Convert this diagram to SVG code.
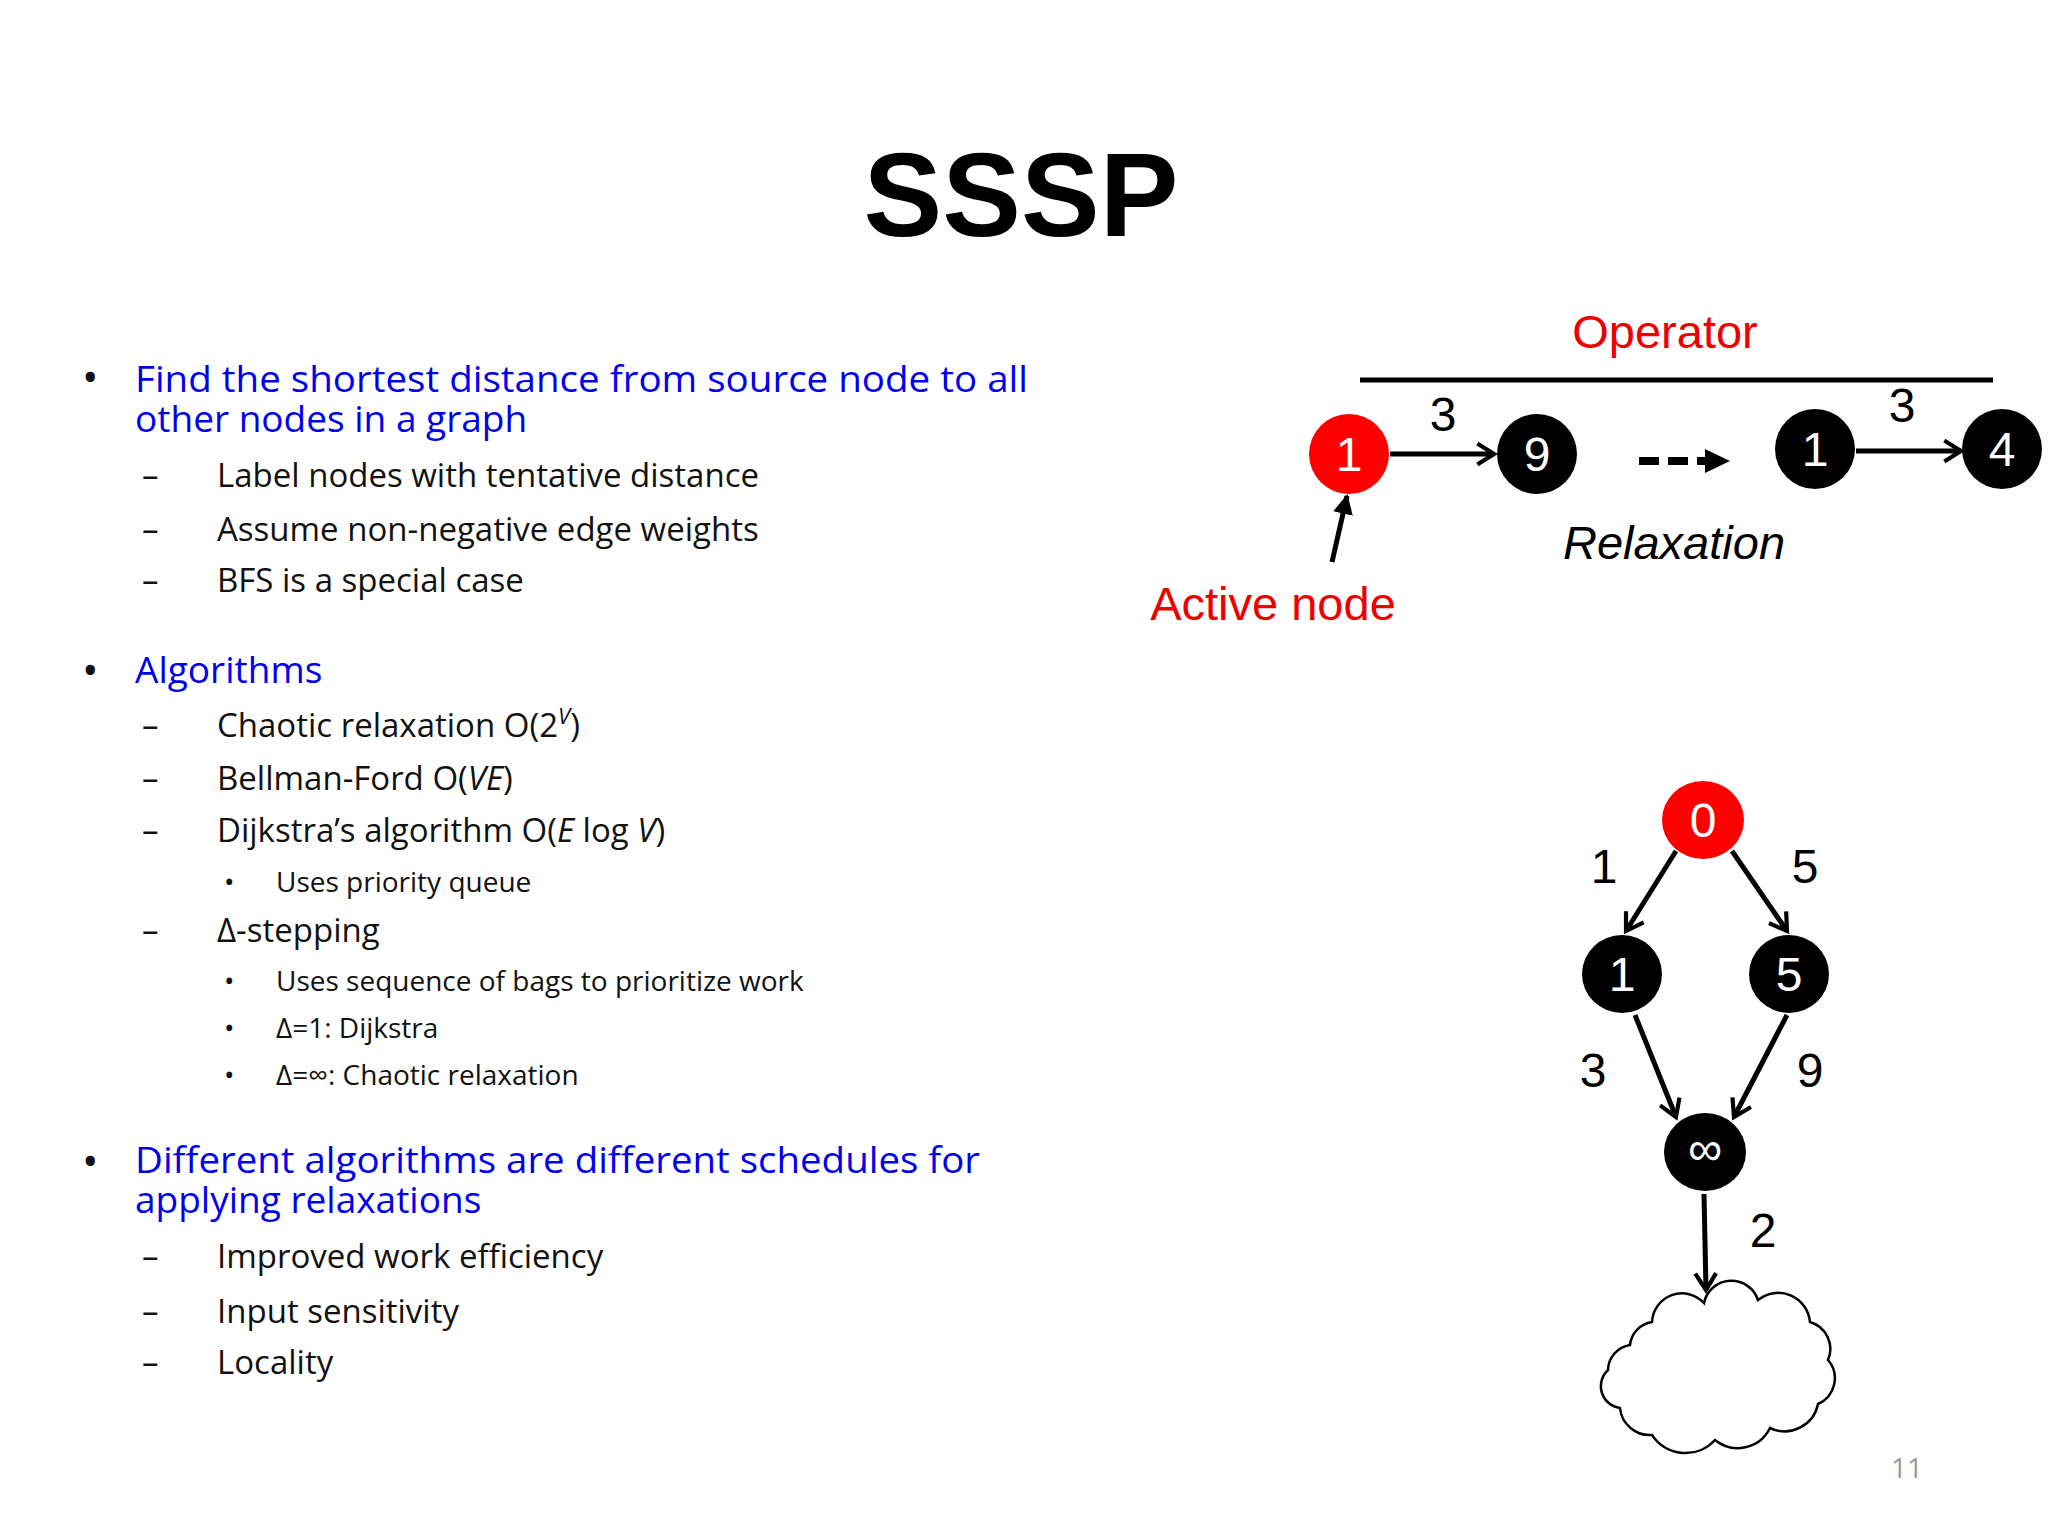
<svg xmlns="http://www.w3.org/2000/svg" width="2048" height="1536" viewBox="0 0 2048 1536">
<style>
.t{font-family:"Open Sans","Liberation Sans",sans-serif;}
.b{fill:#0000ee;font-size:37px;}
.s{fill:#111;font-size:33px;}
.ss{fill:#111;font-size:28px;}
.g{font-family:"Liberation Sans",Arial,sans-serif;font-size:48px;}
.nt{font-family:"Liberation Sans",Arial,sans-serif;font-size:48px;fill:#fff;text-anchor:middle;}
.e{stroke:#000;stroke-width:5;fill:none;}
</style>
<defs>
<marker id="open" viewBox="0 0 12 12" refX="10" refY="6" markerWidth="5" markerHeight="5" orient="auto" markerUnits="strokeWidth"><path d="M2,1 L10,6 L2,11" fill="none" stroke="#000" stroke-width="2"/></marker>
<marker id="fill" viewBox="0 0 10 10" refX="9" refY="5" markerWidth="4" markerHeight="4" orient="auto" markerUnits="strokeWidth"><path d="M0,0 L10,5 L0,10 z" fill="#000"/></marker>
</defs>
<rect width="2048" height="1536" fill="#fff"/>
<text x="1021" y="236" text-anchor="middle" font-family="Liberation Sans,Arial,sans-serif" font-weight="bold" font-size="118">SSSP</text>
<g id="text" class="t">
<g fill="#111" font-size="44"><text x="82" y="393">•</text><text x="82" y="686">•</text><text x="82" y="1177">•</text></g>
<text class="b" x="135" y="392" textLength="893" lengthAdjust="spacingAndGlyphs">Find the shortest distance from source node to all</text>
<text class="b" x="135" y="432">other nodes in a graph</text>
<text class="b" x="135" y="683">Algorithms</text>
<text class="b" x="135" y="1173" textLength="845" lengthAdjust="spacingAndGlyphs">Different algorithms are different schedules for</text>
<text class="b" x="135" y="1213">applying relaxations</text>
<g class="s">
<text x="142" y="487">–</text><text x="217" y="487">Label nodes with tentative distance</text>
<text x="142" y="541">–</text><text x="217" y="541">Assume non-negative edge weights</text>
<text x="142" y="592">–</text><text x="217" y="592">BFS is a special case</text>
<text x="142" y="737">–</text><text x="217" y="737">Chaotic relaxation O(2<tspan font-size="22" dy="-13" font-style="italic">V</tspan><tspan dy="13">)</tspan></text>
<text x="142" y="790">–</text><text x="217" y="790">Bellman-Ford O(<tspan font-style="italic">VE</tspan>)</text>
<text x="142" y="842">–</text><text x="217" y="842">Dijkstra’s algorithm O(<tspan font-style="italic">E</tspan> log <tspan font-style="italic">V</tspan>)</text>
<text x="142" y="942">–</text><text x="217" y="942">Δ-stepping</text>
<text x="142" y="1268">–</text><text x="217" y="1268">Improved work efficiency</text>
<text x="142" y="1323">–</text><text x="217" y="1323">Input sensitivity</text>
<text x="142" y="1374">–</text><text x="217" y="1374">Locality</text>
</g>
<g class="ss">
<text x="224" y="892">•</text><text x="276" y="892">Uses priority queue</text>
<text x="224" y="991">•</text><text x="276" y="991">Uses sequence of bags to prioritize work</text>
<text x="224" y="1038">•</text><text x="276" y="1038">Δ=1:  Dijkstra</text>
<text x="224" y="1085">•</text><text x="276" y="1085">Δ=∞: Chaotic relaxation</text>
</g>
<text x="1907" y="1478" fill="#999" font-size="28" text-anchor="middle">11</text>
</g>
<g id="connectors">
<line class="e" x1="1360" y1="380" x2="1993" y2="380"/>
<line class="e" x1="1390" y1="454" x2="1494" y2="454" marker-end="url(#open)"/>
<line class="e" x1="1856" y1="451" x2="1961" y2="451" marker-end="url(#open)"/>
<line x1="1639" y1="461" x2="1705" y2="461" stroke="#000" stroke-width="8" stroke-dasharray="20,9"/>
<path d="M1705,449 L1730,461 L1705,473 z" fill="#000"/>
<line class="e" x1="1332" y1="562" x2="1347" y2="496" marker-end="url(#fill)"/>
<line class="e" x1="1676" y1="851" x2="1626" y2="931" marker-end="url(#open)"/>
<line class="e" x1="1732" y1="851" x2="1787" y2="931" marker-end="url(#open)"/>
<line class="e" x1="1635" y1="1015" x2="1676" y2="1117" marker-end="url(#open)"/>
<line class="e" x1="1787" y1="1015" x2="1734" y2="1117" marker-end="url(#open)"/>
<line class="e" x1="1704" y1="1194" x2="1706" y2="1290" marker-end="url(#open)"/>
</g>
<g id="labels" class="g">
<text x="1665" y="348" fill="#e00" text-anchor="middle" font-size="47">Operator</text>
<text x="1443" y="431" text-anchor="middle">3</text>
<text x="1902" y="422" text-anchor="middle">3</text>
<text x="1674" y="559" text-anchor="middle" font-style="italic" font-size="47">Relaxation</text>
<text x="1273" y="620" fill="#e00" text-anchor="middle" font-size="47">Active node</text>
<text x="1604" y="883" text-anchor="middle">1</text>
<text x="1805" y="883" text-anchor="middle">5</text>
<text x="1593" y="1087" text-anchor="middle">3</text>
<text x="1810" y="1087" text-anchor="middle">9</text>
<text x="1763" y="1247" text-anchor="middle">2</text>
</g>
<g id="n1a"><ellipse cx="1349" cy="454" rx="40" ry="40" fill="#f00"/><text class="nt" x="1349" y="471">1</text></g>
<g id="n9"><ellipse cx="1537" cy="454" rx="40" ry="40" fill="#000"/><text class="nt" x="1537" y="471">9</text></g>
<g id="n1b"><ellipse cx="1815" cy="449" rx="40" ry="40" fill="#000"/><text class="nt" x="1815" y="466">1</text></g>
<g id="n4"><ellipse cx="2002" cy="449" rx="40" ry="40" fill="#000"/><text class="nt" x="2002" y="466">4</text></g>
<g id="g0"><ellipse cx="1703" cy="820" rx="41" ry="39" fill="#f00"/><text class="nt" x="1703" y="837">0</text></g>
<g id="g1"><ellipse cx="1622" cy="974" rx="40" ry="39" fill="#000"/><text class="nt" x="1622" y="991">1</text></g>
<g id="g5"><ellipse cx="1789" cy="974" rx="40" ry="39" fill="#000"/><text class="nt" x="1789" y="991">5</text></g>
<g id="ginf"><ellipse cx="1705" cy="1152" rx="41" ry="39" fill="#000"/><text class="nt" x="1705" y="1165" font-size="36">∞</text></g>
<g id="cloud"><path d="M1652,1322 A30,30 0 0 1 1704,1303 A28,28 0 0 1 1758,1300 A32,32 0 0 1 1810,1322 A28,28 0 0 1 1828,1360 A28,28 0 0 1 1818,1404 A34,34 0 0 1 1770,1428 A36,36 0 0 1 1715,1440 A40,40 0 0 1 1652,1435 A30,30 0 0 1 1620,1408 A22,22 0 0 1 1608,1370 A26,26 0 0 1 1630,1345 A26,26 0 0 1 1652,1322 z" fill="#fff" stroke="#000" stroke-width="2.5"/></g>
</svg>
